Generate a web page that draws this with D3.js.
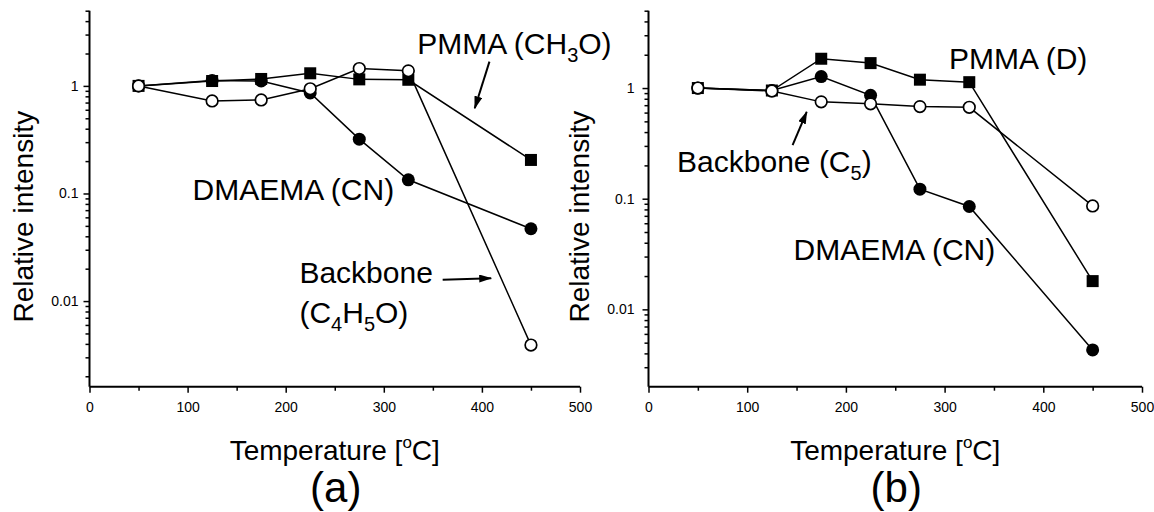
<!DOCTYPE html>
<html>
<head>
<meta charset="utf-8">
<script src="https://cdn.jsdelivr.net/npm/d3@7"></script>
<style>
  body { margin: 0; background: #fff; }
  svg { display: block; font-family: "Liberation Sans", Arial, sans-serif; }
</style>
</head>
<body>
<svg id="grafica" width="1154" height="512"></svg>
<script>
// datos
const temperaturas = [50, 125, 175, 225, 275, 325, 450];

// panel (a)
const pmmaCH3O      = [1, 1.11, 1.16, 1.31, 1.15, 1.14, 0.205];
const dmaemaCNa     = [1, 1.12, 1.11, 0.86, 0.32, 0.134, 0.047];
const backboneC4H5O = [1, 0.725, 0.74, 0.94, 1.45, 1.38, 0.0039];

// panel (b)
const pmmaD      = [1, 0.95, 1.84, 1.68, 1.19, 1.13, 0.018];
const dmaemaCNb  = [1, 0.95, 1.27, 0.86, 0.122, 0.085, 0.0043];
const backboneC5 = [1, 0.94, 0.75, 0.72, 0.68, 0.67, 0.086];

const xTicks = [0, 100, 200, 300, 400, 500];
const yTicks = [0.01, 0.1, 1];
const yTickLabels = ["0.01", "0.1", "1"];

const tituloX = "Temperature [";
const tituloY = "Relative intensity";

function DOMCargado() {

  const svg = d3.select("svg#grafica");

  svg.append("rect").attr("width", 1154).attr("height", 512).attr("fill", "#fff");

  // punta de flecha
  svg.append("defs").append("marker")
    .attr("id", "punta")
    .attr("markerUnits", "userSpaceOnUse")
    .attr("markerWidth", 13)
    .attr("markerHeight", 8)
    .attr("refX", 12)
    .attr("refY", 4)
    .attr("orient", "auto")
    .append("path")
    .attr("d", "M0,0 L13,4 L0,8 Z")
    .attr("fill", "#000");

  const paneles = [
    {
      left: 89.5, right: 580, top: 10.7, bottom: 386.7, yMin: 0.0016, pad: 5, tituloYx: 32.5,
      etiqueta: "(a)",
      series: [
        { valores: pmmaCH3O, tipo: "square" },
        { valores: dmaemaCNa, tipo: "circle" },
        { valores: backboneC4H5O, tipo: "open" }
      ],
      textos: [
        { x: 334, y: 1.99, partes: [["PMMA (CH", 0], ["3", 1], ["O)", 0]] },
        { x: 105, y: 0.087, partes: [["DMAEMA (CN)", 0]] },
        { x: 214, y: 0.0148, partes: [["Backbone", 0]] },
        { x: 214, y: 0.0063, partes: [["(C", 0], ["4", 1], ["H", 0], ["5", 1], ["O)", 0]] }
      ],
      flechas: [
        { x1: 407.7, y1: 1.68, x2: 392.7, y2: 0.62 },
        { x1: 360, y1: 0.0158, x2: 409.5, y2: 0.0163 }
      ]
    },
    {
      left: 648.5, right: 1142, top: 10.7, bottom: 386.7, yMin: 0.002, pad: 8, tituloYx: 589,
      etiqueta: "(b)",
      series: [
        { valores: pmmaD, tipo: "square" },
        { valores: dmaemaCNb, tipo: "circle" },
        { valores: backboneC5, tipo: "open" }
      ],
      textos: [
        { x: 304.5, y: 1.5, partes: [["PMMA (D)", 0]] },
        { x: 29, y: 0.175, partes: [["Backbone (C", 0], ["5", 1], [")", 0]] },
        { x: 147, y: 0.028, partes: [["DMAEMA (CN)", 0]] }
      ],
      flechas: [
        { x1: 146, y1: 0.305, x2: 160.3, y2: 0.61 }
      ]
    }
  ];

  paneles.forEach(p => dibujaPanel(svg, p));
}

function dibujaPanel(svg, p) {

  const x = d3.scaleLinear().domain([0, 500]).range([p.left, p.right]);
  const y = d3.scaleLog().domain([p.yMin, 5]).range([p.bottom, p.top]);

  // eje x
  const ejeX = svg.append("g")
    .attr("transform", `translate(0,${p.bottom})`)
    .call(d3.axisBottom(x).tickValues(xTicks).tickSize(6).tickPadding(9).tickFormat(d3.format("d")));
  ejeX.selectAll(".tick line").attr("stroke-width", 1.5);

  const menoresX = x.ticks(10).filter(d => d % 100 !== 0);
  svg.append("g")
    .attr("transform", `translate(0,${p.bottom})`)
    .call(d3.axisBottom(x).tickValues(menoresX).tickSize(4).tickFormat(""))
    .call(g => g.select(".domain").remove())
    .selectAll(".tick line").attr("stroke-width", 1.5);

  // eje y
  const ejeY = svg.append("g")
    .attr("transform", `translate(${p.left},0)`)
    .call(d3.axisLeft(y).tickValues(yTicks).tickSize(6).tickPadding(p.pad)
      .tickFormat((d, i) => yTickLabels[i]));
  ejeY.selectAll(".tick line").attr("stroke-width", 1.5);

  const menoresY = y.ticks().filter(d => yTicks.indexOf(d) < 0 && d > p.yMin);
  svg.append("g")
    .attr("transform", `translate(${p.left},0)`)
    .call(d3.axisLeft(y).tickValues(menoresY).tickSize(4).tickFormat(""))
    .call(g => g.select(".domain").remove())
    .selectAll(".tick line").attr("stroke-width", 1.5);

  [ejeX, ejeY].forEach(e => {
    e.select(".domain").attr("stroke-width", 2).attr("d",
      e === ejeX ? `M${p.left},0H${p.right}` : `M0,${p.top}V${p.bottom}`);
    e.selectAll(".tick text").attr("font-size", 14).attr("fill", "#000")
      .attr("font-family", "Liberation Sans, Arial, sans-serif");
  });

  // titulos
  const tx = svg.append("text")
    .attr("x", (p.left + p.right) / 2)
    .attr("y", 460)
    .attr("text-anchor", "middle")
    .attr("font-size", 28);
  tx.append("tspan").text(tituloX);
  tx.append("tspan").attr("dy", -12).attr("font-size", 17).text("o");
  tx.append("tspan").attr("dy", 12).text("C]");

  svg.append("text")
    .attr("transform", `translate(${p.tituloYx},${(p.top + p.bottom) / 2 + 18}) rotate(-90)`)
    .attr("text-anchor", "middle")
    .attr("font-size", 28)
    .text(tituloY);

  svg.append("text")
    .attr("x", (p.left + p.right) / 2 + 1)
    .attr("y", 502)
    .attr("text-anchor", "middle")
    .attr("font-size", 42)
    .text(p.etiqueta);

  // series
  const linea = d3.line().x((d, i) => x(temperaturas[i])).y(d => y(d));

  p.series.forEach(s => {
    svg.append("path")
      .datum(s.valores)
      .attr("d", linea)
      .attr("fill", "none")
      .attr("stroke", "#000")
      .attr("stroke-width", 1.5);
  });

  p.series.forEach(s => {
    const g = svg.append("g");
    if (s.tipo === "square") {
      g.selectAll("rect").data(s.valores).join("rect")
        .attr("x", (d, i) => x(temperaturas[i]) - 6)
        .attr("y", d => y(d) - 6)
        .attr("width", 12)
        .attr("height", 12)
        .attr("fill", "#000");
    } else {
      g.selectAll("circle").data(s.valores).join("circle")
        .attr("cx", (d, i) => x(temperaturas[i]))
        .attr("cy", d => y(d))
        .attr("r", s.tipo === "open" ? 5.8 : 6.5)
        .attr("fill", s.tipo === "open" ? "#fff" : "#000")
        .attr("stroke", "#000")
        .attr("stroke-width", s.tipo === "open" ? 1.7 : 0);
    }
  });

  // textos y flechas
  p.textos.forEach(t => {
    const txt = svg.append("text")
      .attr("x", x(t.x))
      .attr("y", y(t.y))
      .attr("font-size", 30);
    let abajo = false;
    t.partes.forEach(([s, sub]) => {
      const ts = txt.append("tspan").text(s);
      if (sub && !abajo) { ts.attr("dy", 8).attr("font-size", 20); abajo = true; }
      else if (!sub && abajo) { ts.attr("dy", -8); abajo = false; }
      else if (sub) ts.attr("font-size", 20);
    });
  });

  p.flechas.forEach(f => {
    svg.append("line")
      .attr("x1", x(f.x1)).attr("y1", y(f.y1))
      .attr("x2", x(f.x2)).attr("y2", y(f.y2))
      .attr("stroke", "#000")
      .attr("stroke-width", 2)
      .attr("marker-end", "url(#punta)");
  });
}

document.addEventListener("DOMContentLoaded", DOMCargado);
</script>
</body>
</html>
